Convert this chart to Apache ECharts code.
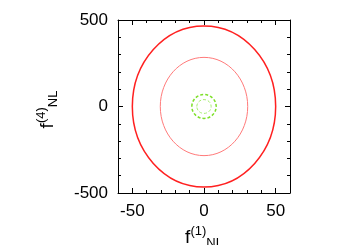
<!DOCTYPE html>
<html>
<head>
<meta charset="utf-8">
<script src="https://cdn.jsdelivr.net/npm/echarts@6/dist/echarts.min.js"></script>
<style>
  html, body { margin: 0; padding: 0; background: #fff; }
  #main { width: 350px; height: 245px; }
</style>
</head>
<body>
<div id="main"></div>
<script>
// ellipse contours: [centre x, centre y, half width, half height]
var redOuter = [[0, 0, 50, 465]];
var redInner = [[0, 0, 30.5, 284]];
var greenOuter = [[0, 0, 8.5, 69]];
var greenInner = [[0, 0, 5, 40]];

var xTicks = [-50, 0, 50];
var yTicks = [-500, 0, 500];

var chartDom = document.getElementById("main");
var myChart = echarts.init(chartDom);
var option;

var font = "Liberation Sans";

function titleStyle(pad) {
  return {
    color: "#000",
    fontFamily: font,
    padding: pad,
    rich: {
      f: { fontSize: 19, fontFamily: font, color: "#000" },
      sup: { fontSize: 13, fontFamily: font, color: "#000", padding: [0, 0, 12, 0] },
      sub: { fontSize: 13, fontFamily: font, color: "#000", padding: [12, 0, 0, 0] },
    },
  };
}

// main axis with labels and long ticks
function mainAxis(pos, min, max, ticks, name, gap, rotate, pad) {
  return {
    type: "value",
    position: pos,
    min: min,
    max: max,
    name: name,
    nameLocation: "middle",
    nameGap: gap,
    nameRotate: rotate,
    nameTextStyle: titleStyle(pad),
    axisLine: { show: true, onZero: false, lineStyle: { color: "#000", width: 1 } },
    axisTick: { show: true, inside: true, length: 5, customValues: ticks, lineStyle: { color: "#000" } },
    axisLabel: {
      show: name !== "",
      customValues: ticks,
      color: "#000",
      fontSize: 17,
      fontFamily: font,
      margin: 10,
    },
    splitLine: { show: false },
  };
}

// overlay axis for the short ticks
function minorAxis(pos, min, max, step) {
  return {
    type: "value",
    position: pos,
    min: min,
    max: max,
    interval: step,
    axisLine: { show: false, onZero: false },
    axisTick: { show: true, inside: true, length: 3, lineStyle: { color: "#000" } },
    axisLabel: { show: false },
    splitLine: { show: false },
  };
}

function ellipseSeries(data, color, width, dash) {
  return {
    type: "custom",
    coordinateSystem: "cartesian2d",
    xAxisIndex: 0,
    yAxisIndex: 0,
    silent: true,
    encode: { x: 0, y: 1 },
    data: data,
    renderItem: function (params, api) {
      var c = api.coord([api.value(0), api.value(1)]);
      var px = api.coord([api.value(0) + api.value(2), api.value(1)]);
      var py = api.coord([api.value(0), api.value(1) + api.value(3)]);
      return {
        type: "ellipse",
        shape: { cx: c[0], cy: c[1], rx: px[0] - c[0], ry: c[1] - py[1] },
        style: { fill: "none", stroke: color, lineWidth: width, lineDash: dash },
      };
    },
  };
}

option = {
  animation: false,
  backgroundColor: "#fff",
  grid: { left: 118, right: 60, top: 20, bottom: 52, containLabel: false, outerBoundsMode: "none" },
  xAxis: [
    mainAxis("bottom", -60, 60, xTicks, "{f|f}{sup|(1)}{sub|NL}", 28, 0, 0),
    mainAxis("top", -60, 60, xTicks, "", 0, 0, 0),
    minorAxis("bottom", -60, 60, 10),
    minorAxis("top", -60, 60, 10),
  ],
  yAxis: [
    mainAxis("left", -500, 500, yTicks, "{f|f}{sup|(4)}{sub|NL}", 58, 90, [0, 6, 0, 0]),
    mainAxis("right", -500, 500, yTicks, "", 0, 0, 0),
    minorAxis("left", -500, 500, 100),
    minorAxis("right", -500, 500, 100),
  ],
  series: [
    ellipseSeries(redOuter, "#ff2020", 1.5, null),
    ellipseSeries(redInner, "#ff7a7a", 1, null),
    ellipseSeries(greenOuter, "#7ee02a", 1.5, [3, 2]),
    ellipseSeries(greenInner, "#a6ee70", 1, [3, 2]),
  ],
};

option && myChart.setOption(option);
window.addEventListener("resize", function () {
  myChart.resize();
});
</script>
</body>
</html>
